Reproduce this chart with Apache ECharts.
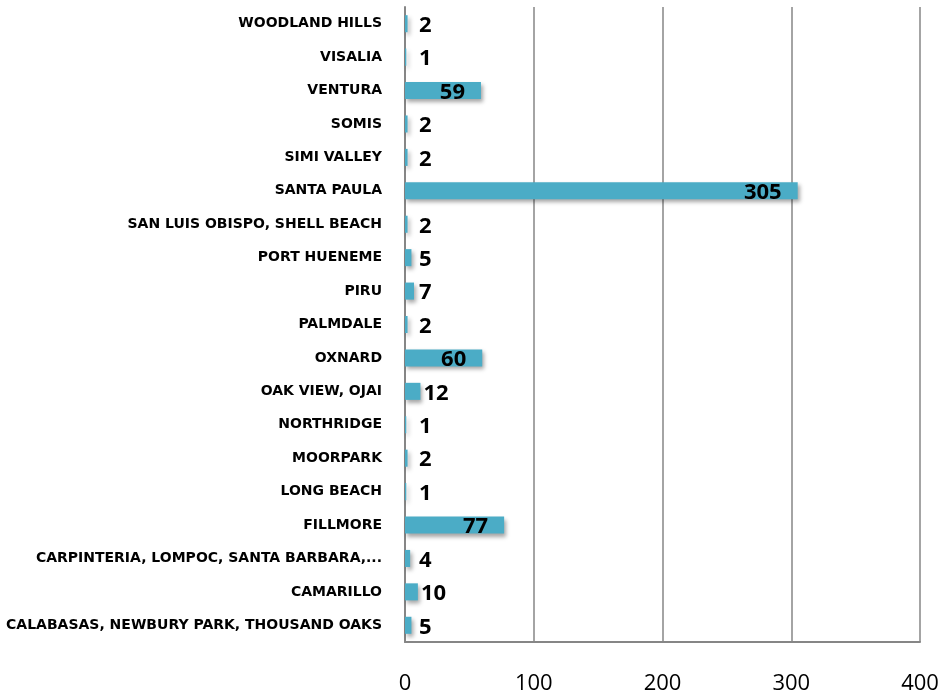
<!DOCTYPE html>
<html>
<head>
<meta charset="utf-8">
<style>
  html, body { margin: 0; padding: 0; background: #fff; }
  #chart { width: 945px; height: 696px; }
</style>
<script src="https://cdn.jsdelivr.net/npm/echarts@6/dist/echarts.min.js"></script>
</head>
<body>
<div id="chart"></div>
<script>
// bottom to top, as on the y axis
var cities = [
  'CALABASAS, NEWBURY PARK, THOUSAND OAKS',
  'CAMARILLO',
  'CARPINTERIA, LOMPOC, SANTA BARBARA,...',
  'FILLMORE',
  'LONG BEACH',
  'MOORPARK',
  'NORTHRIDGE',
  'OAK VIEW, OJAI',
  'OXNARD',
  'PALMDALE',
  'PIRU',
  'PORT HUENEME',
  'SAN LUIS OBISPO, SHELL BEACH',
  'SANTA PAULA',
  'SIMI VALLEY',
  'SOMIS',
  'VENTURA',
  'VISALIA',
  'WOODLAND HILLS'
]
var counts = [5, 10, 4, 77, 1, 2, 1, 12, 60, 2, 7, 5, 2, 305, 2, 2, 59, 1, 2]
var xTicks = [0, 100, 200, 300, 400]

var chart = echarts.init(document.getElementById('chart'))

// big bars carry the label inside, small ones just to the right
var barData = counts.map(function (v) {
  var big = v > 40
  return {
    value: v,
    label: {
      position: big ? 'insideRight' : 'right',
      distance: big ? 16 : Math.max(3, 14 - v * 1.29)
    }
  }
})

chart.setOption({
  animation: false,
  textStyle: { fontFamily: 'Open Sans' },
  grid: { left: 405, right: 25, top: 7, bottom: 54 },
  xAxis: {
    type: 'value',
    min: xTicks[0],
    max: xTicks[xTicks.length - 1],
    interval: 100,
    axisLine: { show: true, lineStyle: { color: '#868686', width: 2 } },
    axisTick: { show: false },
    axisLabel: { color: '#000', fontSize: 22, margin: 31 },
    splitLine: { show: true, lineStyle: { color: '#868686', width: 1.5 } }
  },
  yAxis: {
    type: 'category',
    data: cities,
    axisLine: { show: true, lineStyle: { color: '#868686', width: 2 } },
    axisTick: { show: false },
    axisLabel: {
      color: '#000',
      fontFamily: 'DejaVu Sans',
      fontSize: 14,
      fontWeight: 'bold',
      margin: 23
    }
  },
  series: [{
    type: 'bar',
    data: barData,
    barWidth: '51%',
    itemStyle: {
      color: '#4BACC6',
      shadowColor: 'rgba(0,0,0,0.35)',
      shadowBlur: 4,
      shadowOffsetX: 2,
      shadowOffsetY: 3
    },
    label: {
      show: true,
      color: '#000',
      fontSize: 22,
      fontWeight: 'bold',
      offset: [0, 2]
    }
  }]
})
</script>
</body>
</html>
